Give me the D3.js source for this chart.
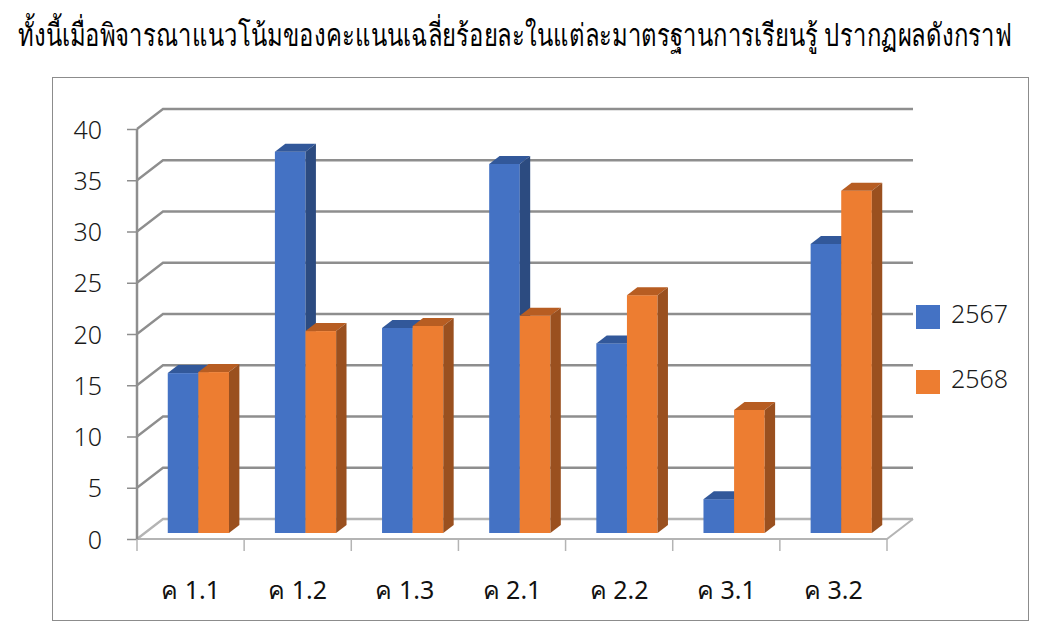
<!DOCTYPE html>
<html>
<head>
<meta charset="utf-8">
<script src="https://cdn.jsdelivr.net/npm/d3@7"></script>
<style>
  html, body { margin: 0; padding: 0; background: #fff; }
  svg { display: block; font-family: "Noto Sans", "Open Sans", sans-serif; }
</style>
</head>
<body>
<svg id="chart" width="1044" height="632"></svg>
<script>
// data
const categories = ['ค 1.1', 'ค 1.2', 'ค 1.3', 'ค 2.1', 'ค 2.2', 'ค 3.1', 'ค 3.2'];
const years = ['2567', '2568'];
const values2567 = [15.6, 37.2, 20.0, 36.0, 18.5, 3.3, 28.2];
const values2568 = [15.7, 19.7, 20.2, 21.2, 23.2, 12.0, 33.4];
const yTicks = [0, 5, 10, 15, 20, 25, 30, 35, 40];
const titleText = 'ทั้งนี้เมื่อพิจารณาแนวโน้มของคะแนนเฉลี่ยร้อยละในแต่ละมาตรฐานการเรียนรู้ ปรากฏผลดังกราฟ';

const colors = {
  '2567': { front: '#4472c4', top: '#32589a', side: '#2c4b80' },
  '2568': { front: '#ed7d31', top: '#b75d22', side: '#9a501f' }
};
const labelFont = '"Noto Sans", "Open Sans", sans-serif';

const svg = d3.select('#chart');

// title, fitted to the width it has in the picture; the source font is taller/narrower
const title = svg.append('text')
  .attr('x', 0).attr('y', 0)
  .attr('font-size', 28)
  .attr('font-weight', 300)
  .attr('fill', '#000')
  .text(titleText);
const tw = title.node().getComputedTextLength();
title.attr('font-size', 28 * 985 / tw)
  .attr('transform', 'translate(18,46) scale(1,1.3)');

// chart frame
svg.append('rect')
  .attr('x', 52.5).attr('y', 77.5)
  .attr('width', 976).attr('height', 543)
  .attr('fill', '#fff')
  .attr('stroke', '#8c8c8c');

// 3d depth of the plot box
const depth = { dx: 26, dy: -20 };
const x0 = d3.scaleBand().domain(categories).range([137, 887]).padding(0);
const x1 = d3.scaleBand().domain(years).range([0, x0.bandwidth()]).paddingOuter(0.75).paddingInner(0);
const y = d3.scaleLinear().domain([0, 40]).range([539, 129]);

const g = svg.append('g');

// floor
const floorCol = '#b4b4b4';
g.append('path')
  .attr('d', `M${x0.range()[0]},${y(0)}H${x0.range()[1]}l${depth.dx},${depth.dy}`)
  .attr('fill', 'none').attr('stroke', floorCol).attr('stroke-width', 2);

// back wall gridlines with diagonals on the side wall
const gridCol = '#8e8e8e';
g.selectAll('path.grid')
  .data(yTicks)
  .join('path')
  .attr('class', 'grid')
  .attr('d', d => `M137,${y(d)}l${depth.dx},${depth.dy}H${887 + depth.dx}`)
  .attr('fill', 'none')
  .attr('stroke', d => d === 0 ? floorCol : gridCol)
  .attr('stroke-width', 2.3);

// left axis line + ticks
g.append('line')
  .attr('x1', 137).attr('x2', 137)
  .attr('y1', y(40)).attr('y2', y(0) + 1)
  .attr('stroke', gridCol).attr('stroke-width', 2.5);

const yAxis = g.append('g')
  .attr('transform', 'translate(137,0)')
  .call(d3.axisLeft(y).tickValues(yTicks).tickSize(10).tickPadding(25));
yAxis.select('.domain').remove();
yAxis.selectAll('.tick line').attr('stroke', gridCol).attr('stroke-width', 1.5);
yAxis.selectAll('.tick text')
  .attr('font-size', 25)
  .attr('font-weight', 300)
  .attr('font-family', labelFont)
  .attr('fill', '#1a1a1a')
  .attr('dy', '0.36em');

// category ticks + labels
const xAxis = g.append('g')
  .attr('transform', `translate(0,${y(0)})`)
  .call(d3.axisBottom(x0).tickSize(0).tickPadding(42));
xAxis.select('.domain').remove();
xAxis.selectAll('.tick text')
  .attr('font-size', 25)
  .attr('font-family', labelFont)
  .attr('fill', '#111');
g.selectAll('line.ctick')
  .data(d3.range(categories.length + 1))
  .join('line')
  .attr('class', 'ctick')
  .attr('x1', i => 137 + i * x0.step()).attr('x2', i => 137 + i * x0.step())
  .attr('y1', y(0)).attr('y2', y(0) + 12)
  .attr('stroke', floorCol).attr('stroke-width', 1.5);

// bars: front face at 30% depth, back face at 70%
const fz = 0.3, bz = 0.7;
const offX = depth.dx * fz, offY = depth.dy * fz;
const dX = depth.dx * (bz - fz), dY = depth.dy * (bz - fz);
const series = { '2567': values2567, '2568': values2568 };

const bars = [];
categories.forEach((c, i) => {
  years.forEach(yr => bars.push({ cat: c, year: yr, value: series[yr][i] }));
});

const barG = g.selectAll('g.bar')
  .data(bars)
  .join('g')
  .attr('class', 'bar');

barG.each(function(d) {
  const el = d3.select(this);
  const xl = x0(d.cat) + x1(d.year) + offX;
  const w = x1.bandwidth();
  const yt = y(d.value) + offY;
  const yb = y(0) + offY;
  const col = colors[d.year];
  el.append('rect')
    .attr('x', xl).attr('y', yt)
    .attr('width', w).attr('height', yb - yt)
    .attr('fill', col.front);
  el.append('path')
    .attr('d', `M${xl},${yt}l${dX},${dY}h${w}l${-dX},${-dY}Z`)
    .attr('fill', col.top);
  el.append('path')
    .attr('d', `M${xl + w},${yt}l${dX},${dY}V${yb + dY}l${-dX},${-dY}Z`)
    .attr('fill', col.side);
});

// legend
const legend = svg.append('g')
  .selectAll('g')
  .data(years)
  .join('g')
  .attr('transform', (d, i) => `translate(916,${305 + i * 65})`);
legend.append('rect')
  .attr('width', 24).attr('height', 24)
  .attr('fill', d => colors[d].front);
legend.append('text')
  .attr('x', 35).attr('y', 18)
  .attr('font-size', 25)
  .attr('font-weight', 300)
  .attr('font-family', labelFont)
  .attr('fill', '#1a1a1a')
  .text(d => d);
</script>
</body>
</html>
